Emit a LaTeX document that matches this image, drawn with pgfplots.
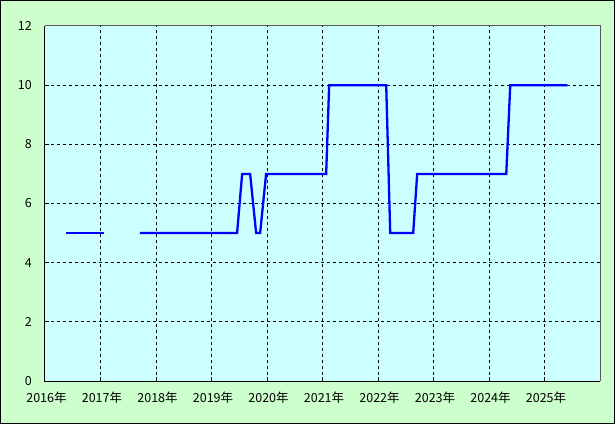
\documentclass[border=0pt]{standalone}
\usepackage{pgfplots}
\pgfplotsset{compat=1.18}
\usepackage{fontspec}
\setmainfont{Noto Sans CJK JP}
\definecolor{outerbg}{HTML}{CCFFCC}
\definecolor{plotbg}{HTML}{CCFFFF}
\definecolor{lineblue}{HTML}{0000FF}
\begin{document}
\begin{tikzpicture}
\useasboundingbox (-45bp,-43bp) rectangle (570bp,381bp);
\fill[outerbg] (-45bp,-43bp) rectangle (570bp,381bp);
\draw[black, line width=1bp] (-44.5bp,-42.5bp) rectangle (569.5bp,380.5bp);
\begin{axis}[
  at={(0,0)}, anchor=south west,
  scale only axis,
  width=555bp, height=355bp,
  xmin=0, xmax=10, ymin=0, ymax=12,
  xtick={0,1,2,3,4,5,6,7,8,9,10},
  xticklabels={2016年,2017年,2018年,2019年,2020年,2021年,2022年,2023年,2024年,2025年,{}},
  ytick={0,2,4,6,8,10,12},
  axis background/.style={fill=plotbg},
  axis line style={draw=none},
  grid=major,
  major grid style={black, line width=1bp, dash pattern=on 3bp off 3bp},
  tick align=inside,
  major tick length=4bp,
  tick style={black, line width=1bp},
  xtick pos=left, ytick pos=left,
  /pgf/number format/assume math mode=true,
  tick label style={font=\fontsize{12.5bp}{14bp}\selectfont, inner sep=0pt, text=black},
  xticklabel style={anchor=north, xshift=1.5bp},
  xticklabel shift=11bp,
  yticklabel style={anchor=east},
  yticklabel shift=13bp,
  clip=false,
]
\addplot[lineblue, line width=2.3bp, line cap=rect] coordinates {
  (0.397,5) (1.046,5)
};
\addplot[lineblue, line width=2.3bp, line join=miter, line cap=rect] coordinates {
  (1.731,5) (3.461,5) (3.552,7) (3.696,7) (3.804,5) (3.876,5) (3.984,7)
  (5.066,7) (5.120,10) (6.148,10) (6.220,5) (6.634,5) (6.706,7)
  (8.311,7) (8.383,10) (9.393,10)
};
\draw[gray!70!black, line width=1bp] (rel axis cs:0,1) -- (rel axis cs:1,1) -- (rel axis cs:1,0);
\draw[black, line width=1bp] (rel axis cs:0,1) -- (rel axis cs:0,0) -- (rel axis cs:1,0);
\end{axis}
\end{tikzpicture}
\end{document}
